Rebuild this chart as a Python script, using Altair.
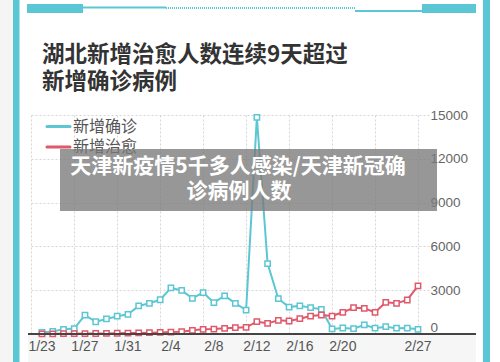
import altair as alt
import pandas as pd

# ---------------- data ----------------
dates = ["1/23", "1/24", "1/25", "1/26", "1/27", "1/28", "1/29", "1/30", "1/31",
         "2/1", "2/2", "2/3", "2/4", "2/5", "2/6", "2/7", "2/8", "2/9", "2/10",
         "2/11", "2/12", "2/13", "2/14", "2/15", "2/16", "2/17", "2/18", "2/19",
         "2/20", "2/21", "2/22", "2/23", "2/24", "2/25", "2/26", "2/27"]
confirmed = [105, 180, 323, 371, 1291, 840, 1032, 1220, 1347,
             1921, 2103, 2345, 3156, 2987, 2447, 2841, 2147, 2618, 2097,
             1638, 14840, 4823, 2420, 1843, 1933, 1807, 1693, 349,
             411, 366, 630, 398, 499, 401, 409, 318]
cured = [10, 15, 20, 25, 30, 35, 40, 50, 60,
         70, 90, 110, 130, 160, 250, 320, 340, 390, 430,
         460, 842, 730, 935, 890, 1050, 1230, 1300, 1230,
         1485, 1800, 1760, 1485, 2170, 2100, 2330, 3290]
series_names = ["新增确诊", "新增治愈"]
shown_labels = ["1/23", "1/27", "1/31", "2/4", "2/8", "2/12", "2/16", "2/20", "2/27"]
y_ticks = [0, 3000, 6000, 9000, 12000, 15000]

title_lines = ["湖北新增治愈人数连续9天超过", "新增确诊病例"]
overlay_lines = ["天津新疫情5千多人感染/天津新冠确", "诊病例人数"]

CYAN = "#5cc6d3"
RED = "#e0586b"
FRAME = "#5bc7d4"

rows = []
for i, d in enumerate(dates):
    rows.append({"day": i, "date": d, "series": series_names[0], "value": confirmed[i]})
    rows.append({"day": i, "date": d, "series": series_names[1], "value": cured[i]})
df = pd.DataFrame(rows)
label_df = pd.DataFrame({"day": [dates.index(l) for l in shown_labels], "label": shown_labels})

# plot area placement (absolute px in the 500x362 canvas)
L, T, W, H = 31, 115, 398, 219
px_per_day = 10.743
first_x = 42
d0 = (L - first_x) / px_per_day
d1 = (L + W - first_x) / px_per_day

def ax(v):
    return v - L

def ay(v):
    return v - T

xscale = alt.Scale(domain=[d0, d1], nice=False, zero=False)
yscale = alt.Scale(domain=[0, 15000], nice=False)

x_enc = alt.X("day:Q", scale=xscale, axis=alt.Axis(
    values=list(range(-1, 37)), labels=False, grid=True,
    gridDash=[2, 2], gridColor="#d6d6d6", gridWidth=1, domain=False, ticks=False,
    title=None))
y_enc = alt.Y("value:Q", scale=yscale, axis=alt.Axis(
    orient="right", values=y_ticks, grid=True, gridDash=[2, 2],
    gridColor="#d6d6d6", gridWidth=1, domain=False, ticks=False,
    labelFontSize=13.5, labelColor="#666666", labelFont="Liberation Sans",
    labelPadding=1, labelAlign="left",
    labelBaseline={"condition": {"test": "datum.value == 0", "value": "bottom"}, "value": "middle"},
    title=None, format="d"))

color_scale = alt.Scale(domain=series_names, range=[CYAN, RED])

base = alt.Chart(df).encode(x=x_enc, y=y_enc)
lines = base.mark_line(strokeWidth=2).encode(
    color=alt.Color("series:N", scale=color_scale, legend=None),
    detail="series:N")
points = base.mark_point(shape="square", size=28, strokeWidth=1.5, opacity=1, filled=False).encode(
    stroke=alt.Stroke("series:N", scale=color_scale, legend=None),
    fill=alt.value("white"))

x_labels = alt.Chart(label_df).mark_text(
    baseline="middle", align="center", fontSize=14, font="Liberation Sans", color="#555555"
).encode(x=alt.X("day:Q", scale=xscale), y=alt.value(ay(346.5)), text="label:N")

one = pd.DataFrame({"k": [0]})


def rect(x1, x2, y1, y2, color, opacity=1.0):
    return alt.Chart(one).mark_rect(color=color, opacity=opacity).encode(
        x=alt.value(ax(x1)), x2=alt.value(ax(x2)), y=alt.value(ay(y1)), y2=alt.value(ay(y2)))


def hline(x1, x2, y, color, width, dash=None):
    kw = {"color": color, "strokeWidth": width}
    if dash:
        kw["strokeDash"] = dash
    return alt.Chart(one).mark_rule(**kw).encode(
        x=alt.value(ax(x1)), x2=alt.value(ax(x2)), y=alt.value(ay(y)))


def text(t, x, y, size, color, weight="normal", align="left"):
    return alt.Chart(one).mark_text(
        text=t, align=align, baseline="middle", fontSize=size, fontWeight=weight,
        font="Noto Sans CJK SC", color=color).encode(x=alt.value(ax(x)), y=alt.value(ay(y)))


decor_back = [
    rect(0, 13, 0, 362, "#f4f5f4"),
    rect(13, 19.5, 0, 362, FRAME),
    rect(483, 490, 0, 362, FRAME),
    rect(27, 83, 4, 13, FRAME),
    rect(422, 476, 4, 13, FRAME),
    hline(83, 166, 7.5, FRAME, 2),
    hline(166, 355, 8, FRAME, 2, [1, 1]),
    hline(355, 422, 11, FRAME, 2),
    rect(28, 476, 335, 362, "#f6f6f6"),
    text(title_lines[0], 42, 55, 22.5, "#333333", "bold"),
    text(title_lines[1], 42, 82, 22.5, "#333333", "bold"),
]

baseline = alt.Chart(one).mark_rule(color="#444444", strokeWidth=2).encode(
    x=alt.value(ax(28)), x2=alt.value(ax(476)), y=alt.datum(0, scale=yscale))

legend = [
    alt.Chart(one).mark_rule(color=CYAN, strokeWidth=3, strokeCap="round").encode(
        x=alt.value(ax(47)), x2=alt.value(ax(70)), y=alt.value(ay(126.5))),
    text(series_names[0], 73, 126.5, 16, "#555555"),
    alt.Chart(one).mark_rule(color=RED, strokeWidth=3, strokeCap="round").encode(
        x=alt.value(ax(47)), x2=alt.value(ax(70)), y=alt.value(ay(147))),
    text(series_names[1], 73, 146.5, 16, "#555555"),
]

overlay = [
    rect(60, 437, 149, 211, "#7a7a7a", 0.78),
    text(overlay_lines[0], 238, 167, 21, "white", "bold", "center"),
    text(overlay_lines[1], 239, 192, 21, "white", "bold", "center"),
]

chart = alt.layer(*decor_back, lines, points, baseline, x_labels, *legend, *overlay).properties(
    width=W, height=H,
    autosize=alt.AutoSizeParams(type="none"),
    padding={"left": L, "top": T, "right": 500 - L - W, "bottom": 362 - T - H},
    background="white",
).configure_view(stroke=None)

chart.save("out.html", embed_options={"renderer": "svg", "actions": False})
